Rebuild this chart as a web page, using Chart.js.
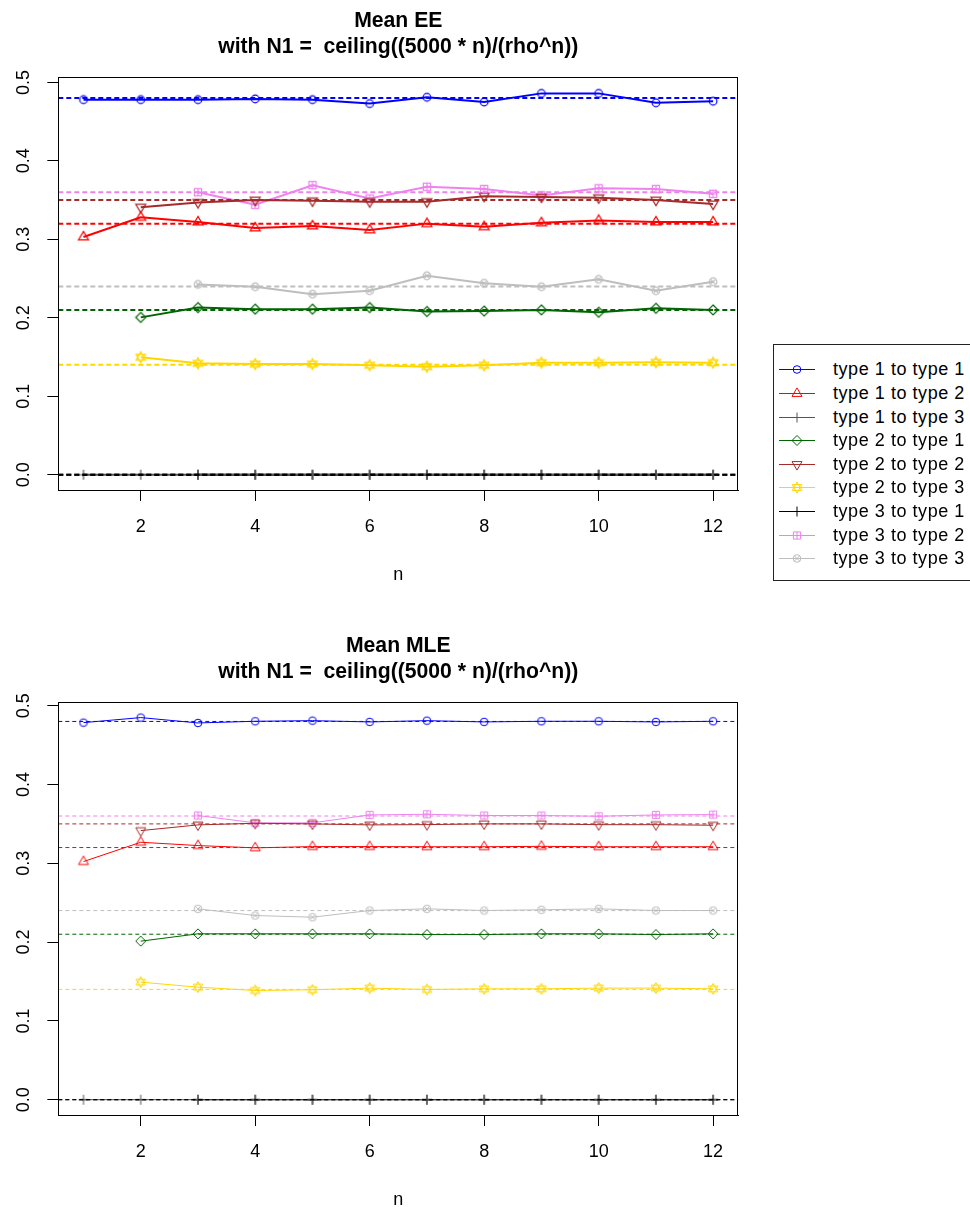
<!DOCTYPE html>
<html><head><meta charset="utf-8"><title>Mean EE / Mean MLE</title>
<script src="https://cdn.jsdelivr.net/npm/chart.js@4.4.1/dist/chart.umd.min.js"></script>
<style>
html,body{margin:0;padding:0;background:#fff;}
body{width:970px;height:1207px;position:relative;overflow:hidden;font-family:"Liberation Sans",Arial,Helvetica,sans-serif;}
canvas.plot{position:absolute;left:0;}
#c1{top:0;} #c2{top:625px;}
#legend{position:absolute;left:773px;top:344px;width:230px;height:237px;border:1px solid #222;box-sizing:border-box;background:#fff;}
.lrow{position:absolute;left:0;width:228px;height:24px;}
.lrow canvas{position:absolute;left:0;top:0;}
.lrow span{position:absolute;left:59px;top:0;line-height:24px;font-size:18px;letter-spacing:0.55px;color:#000;white-space:nowrap;}
</style></head><body>
<canvas id="c1" class="plot" width="760" height="603"></canvas>
<canvas id="c2" class="plot" width="760" height="603"></canvas>
<div id="legend"></div>
<script>
// ---------------- data ----------------
const nValues = [1,2,3,4,5,6,7,8,9,10,11,12];
const xTickStep = 2;
const yTickStep = 0.1;
const seriesLabels = ["type 1 to type 1","type 1 to type 2","type 1 to type 3",
                      "type 2 to type 1","type 2 to type 2","type 2 to type 3",
                      "type 3 to type 1","type 3 to type 2","type 3 to type 3"];
const refValues = [0.48, 0.32, 0, 0.21, 0.35, 0.14, 0, 0.36, 0.24];

// Mean EE
const eeT11 = [0.478,0.478,0.478,0.479,0.478,0.473,0.481,0.475,0.486,0.486,0.474,0.476];
const eeT12 = [0.303,0.328,0.322,0.3145,0.317,0.312,0.320,0.316,0.321,0.324,0.322,0.322];
const eeT13 = [0,0,0,0,0,0,0,0,0,0,0,0];
const eeT21 = [null,0.2005,0.213,0.211,0.211,0.213,0.208,0.2085,0.210,0.207,0.212,0.210];
const eeT22 = [null,0.341,0.347,0.350,0.349,0.348,0.348,0.355,0.354,0.353,0.350,0.345];
const eeT23 = [null,0.1497,0.142,0.141,0.141,0.1395,0.1377,0.1395,0.1428,0.1428,0.1432,0.1428];
const eeT31 = [null,null,0,0,0,0,0,0,0,0,0,0];
const eeT32 = [null,null,0.360,0.344,0.369,0.352,0.367,0.364,0.356,0.365,0.364,0.358];
const eeT33 = [null,null,0.2425,0.2395,0.230,0.2345,0.2535,0.244,0.2395,0.249,0.2345,0.246];

// Mean MLE
const mleT11 = [0.4785,0.4849,0.4781,0.4802,0.481,0.4794,0.481,0.4794,0.4802,0.4802,0.4794,0.4802];
const mleT12 = [0.3022,0.3267,0.3225,0.3196,0.3212,0.3212,0.321,0.321,0.3215,0.321,0.321,0.321];
const mleT13 = [0,0,0,0,0,0,0,0,0,0,0,0];
const mleT21 = [null,0.2012,0.2105,0.2105,0.2105,0.2105,0.2096,0.2096,0.2105,0.2105,0.2096,0.2105];
const mleT22 = [null,0.3415,0.3487,0.3508,0.350,0.3487,0.3491,0.350,0.350,0.349,0.349,0.3483];
const mleT23 = [null,0.1492,0.1428,0.1386,0.1395,0.1416,0.1399,0.1407,0.1407,0.1416,0.1416,0.1407];
const mleT31 = [null,null,0,0,0,0,0,0,0,0,0,0];
const mleT32 = [null,null,0.3606,0.3513,0.3513,0.3614,0.3622,0.3606,0.3606,0.3597,0.3614,0.3618];
const mleT33 = [null,null,0.2422,0.2337,0.2316,0.2401,0.2422,0.2401,0.241,0.2422,0.2401,0.2401];

const eeSeries  = [eeT11,eeT12,eeT13,eeT21,eeT22,eeT23,eeT31,eeT32,eeT33];
const mleSeries = [mleT11,mleT12,mleT13,mleT21,mleT22,mleT23,mleT31,mleT32,mleT33];

// axis limits (R-style 4% extension)
const xMin = 0.56, xMax = 12.44;
const eeYMin = -0.0195, eeYMax = 0.5065;
const mleYMin = -0.0194, mleYMax = 0.5043;

const titleLine2 = "with N1 =  ceiling((5000 * n)/(rho^n))";

// ---------------- styles ----------------
const seriesColors = ["#0000FF","#FF0000","#555555","#006400","#A52A2A","#FFD700","#000000","#EE82EE","#BEBEBE"];
const seriesMarkers = ["circle","triangle","plus","diamond","triangleDown","star","plus","squarePlus","circleX"];
const FONT = '"Liberation Sans", Arial, Helvetica, sans-serif';

function drawMarker(ctx, type, color, cx, cy, lw){
  ctx.save();
  ctx.strokeStyle = color; ctx.lineWidth = lw; ctx.beginPath();
  const r = 3.8;
  switch(type){
    case 'circle': ctx.arc(cx,cy,r,0,Math.PI*2); break;
    case 'triangle': ctx.moveTo(cx,cy-5.6); ctx.lineTo(cx+5,cy+2.9); ctx.lineTo(cx-5,cy+2.9); ctx.closePath(); break;
    case 'triangleDown': ctx.moveTo(cx,cy+5.6); ctx.lineTo(cx+5,cy-2.9); ctx.lineTo(cx-5,cy-2.9); ctx.closePath(); break;
    case 'plus': ctx.moveTo(cx-5,cy); ctx.lineTo(cx+5,cy); ctx.moveTo(cx,cy-5); ctx.lineTo(cx,cy+5); break;
    case 'diamond': ctx.moveTo(cx,cy-5); ctx.lineTo(cx+5,cy); ctx.lineTo(cx,cy+5); ctx.lineTo(cx-5,cy); ctx.closePath(); break;
    case 'star':
      ctx.moveTo(cx,cy-5.5); ctx.lineTo(cx+4.8,cy+2.9); ctx.lineTo(cx-4.8,cy+2.9); ctx.closePath();
      ctx.moveTo(cx,cy+5.5); ctx.lineTo(cx+4.8,cy-2.9); ctx.lineTo(cx-4.8,cy-2.9); ctx.closePath(); break;
    case 'squarePlus':
      ctx.rect(cx-3.6,cy-3.6,7.2,7.2); ctx.moveTo(cx-3.6,cy); ctx.lineTo(cx+3.6,cy); ctx.moveTo(cx,cy-3.6); ctx.lineTo(cx,cy+3.6); break;
    case 'circleX':
      ctx.arc(cx,cy,r,0,Math.PI*2); const d=r*0.707;
      ctx.moveTo(cx-d,cy-d); ctx.lineTo(cx+d,cy+d); ctx.moveTo(cx+d,cy-d); ctx.lineTo(cx-d,cy+d); break;
  }
  ctx.stroke();
  ctx.restore();
}
function markerImage(type, color, lw){
  const c = document.createElement('canvas'); c.width = 16; c.height = 16;
  drawMarker(c.getContext('2d'), type, color, 8, 8, lw);
  return c;
}

const rStyle = {
  id: 'rstyle',
  afterDraw(chart, args, opts){
    const {ctx, chartArea:a} = chart;
    ctx.save();
    ctx.strokeStyle = '#000'; ctx.lineWidth = 1;
    ctx.strokeRect(Math.round(a.left)+0.5, Math.round(a.top)+0.5, Math.round(a.right-a.left)-1, Math.round(a.bottom-a.top));
    const ys = chart.scales.y;
    ctx.fillStyle = '#000';
    ctx.font = '18px ' + FONT;
    ctx.textAlign = 'center'; ctx.textBaseline = 'middle';
    ys.ticks.forEach(t => {
      const py = ys.getPixelForValue(t.value);
      ctx.save(); ctx.translate(opts.labelX, py); ctx.rotate(-Math.PI/2);
      ctx.fillText(Number(t.value).toFixed(1), 0, 0); ctx.restore();
    });
    ctx.font = 'bold 21.2px ' + FONT;
    const cx = (a.left + a.right)/2;
    opts.title.forEach((line,i) => ctx.fillText(line, cx, opts.titleY[i]));
    ctx.restore();
  }
};

function makeChart(id, series, yMin, yMax, lineW, markerW, dash, mainTitle){
  const datasets = [];
  refValues.forEach((v,i) => {
    datasets.push({
      label: 'ref ' + seriesLabels[i],
      data: [{x:xMin,y:v},{x:xMax,y:v}],
      borderColor: seriesColors[i] === '#555555' ? '#000000' : seriesColors[i],
      borderWidth: lineW, borderDash: dash, pointRadius: 0, fill: false, order: 0
    });
  });
  series.forEach((arr,i) => {
    const img = markerImage(seriesMarkers[i], seriesColors[i], markerW);
    datasets.push({
      label: seriesLabels[i],
      data: nValues.map((n,k) => ({x:n, y:arr[k]})),
      borderColor: seriesColors[i], backgroundColor: seriesColors[i],
      borderWidth: lineW, pointStyle: img, pointRadius: 4, tension: 0, fill: false,
      spanGaps: false, order: 1
    });
  });
  return new Chart(document.getElementById(id), {
    type: 'line',
    data: { datasets },
    plugins: [rStyle],
    options: {
      responsive: false, animation: false, devicePixelRatio: 1,
      layout: { padding: { top: 77.3, right: 21.7, bottom: 0, left: 0 } },
      plugins: {
        legend: { display: false }, tooltip: { enabled: false }, title: { display: false },
        rstyle: { labelX: 24.5, title: [mainTitle, titleLine2], titleY: [21, 47] }
      },
      scales: {
        x: {
          type: 'linear', min: xMin, max: xMax,
          afterFit: s => { s.height = 113; },
          ticks: { stepSize: xTickStep, includeBounds: false, color: '#000', font: { family: FONT, size: 18 }, padding: 15, maxRotation: 0, autoSkip: false },
          grid: { display: true, drawOnChartArea: false, drawTicks: true, tickLength: 11, color: '#000', lineWidth: 1 },
          border: { display: true, color: '#000', width: 1 },
          title: { display: true, text: 'n', color: '#000', font: { family: FONT, size: 18 }, padding: { top: 0, bottom: 17 } }
        },
        y: {
          type: 'linear', min: yMin, max: yMax,
          afterFit: s => { s.width = 58.3; },
          ticks: { stepSize: yTickStep, includeBounds: false, display: false },
          grid: { display: true, drawOnChartArea: false, drawTicks: true, tickLength: 11, color: '#000', lineWidth: 1 },
          border: { display: true, color: '#000', width: 1 }
        }
      }
    }
  });
}

makeChart('c1', eeSeries, eeYMin, eeYMax, 2, 1.2, [5,3], 'Mean EE');
makeChart('c2', mleSeries, mleYMin, mleYMax, 1, 1, [4,3], 'Mean MLE');

// legend
const lg = document.getElementById('legend');
seriesLabels.forEach((lab,i) => {
  const row = document.createElement('div'); row.className = 'lrow';
  row.style.top = (12.3 + 23.6*i) + 'px';
  const c = document.createElement('canvas'); c.width = 52; c.height = 24;
  const cx = c.getContext('2d');
  cx.strokeStyle = seriesColors[i]; cx.lineWidth = 1; cx.beginPath(); cx.moveTo(5,12.5); cx.lineTo(41,12.5); cx.stroke();
  drawMarker(cx, seriesMarkers[i], seriesColors[i], 23, 12.5, 1);
  const sp = document.createElement('span'); sp.textContent = lab;
  row.appendChild(c); row.appendChild(sp); lg.appendChild(row);
});
</script></body></html>
